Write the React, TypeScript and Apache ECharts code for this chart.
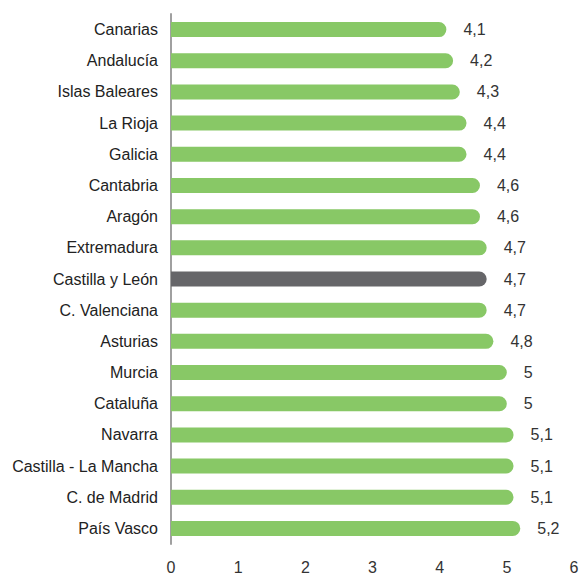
import React, { useEffect, useRef } from "react";
import * as echarts from "echarts";

const categories = [
  "Canarias", "Andalucía", "Islas Baleares", "La Rioja", "Galicia", "Cantabria", "Aragón",
  "Extremadura", "Castilla y León", "C. Valenciana", "Asturias", "Murcia", "Cataluña",
  "Navarra", "Castilla - La Mancha", "C. de Madrid", "País Vasco",
];
const values = [4.1, 4.2, 4.3, 4.4, 4.4, 4.6, 4.6, 4.7, 4.7, 4.7, 4.8, 5, 5, 5.1, 5.1, 5.1, 5.2];
const highlight = "Castilla y León";
const xTicks = [0, 1, 2, 3, 4, 5, 6];

export default function App() {
  const ref = useRef<HTMLDivElement>(null);
  useEffect(() => {
    const chart = echarts.init(ref.current!, null, { renderer: "svg" });
    chart.setOption({
      animation: false,
      textStyle: { fontFamily: "Liberation Sans" },
      grid: { left: 171, right: 8, top: 14, bottom: 27, containLabel: false },
      xAxis: {
        type: "value",
        min: xTicks[0],
        max: xTicks[xTicks.length - 1],
        interval: 1,
        axisLine: { show: false },
        axisTick: { show: false },
        splitLine: { show: false },
        axisLabel: { color: "#333", fontSize: 16, margin: 15, fontFamily: "Liberation Sans" },
      },
      yAxis: {
        type: "category",
        data: categories,
        inverse: true,
        axisLine: { show: true, lineStyle: { color: "#a0a0a0", width: 2 } },
        axisTick: { show: false },
        axisLabel: { color: "#222", fontSize: 16, margin: 13, fontFamily: "Liberation Sans" },
      },
      series: [
        {
          type: "bar",
          barWidth: 15,
          data: values.map((v, i) => ({
            value: v,
            itemStyle: {
              color: categories[i] === highlight ? "#666669" : "#88c866",
              borderRadius: [0, 8, 8, 0],
            },
          })),
          label: {
            show: true,
            position: "right",
            distance: 17,
            color: "#333",
            fontSize: 16,
            fontFamily: "Liberation Sans",
            formatter: (p: any) => String(p.value).replace(".", ","),
          },
        },
      ],
    });
    return () => chart.dispose();
  }, []);
  return (
    <div
      ref={ref}
      style={{ position: "absolute", left: 0, top: 0, width: 582, height: 575 }}
    />
  );
}
